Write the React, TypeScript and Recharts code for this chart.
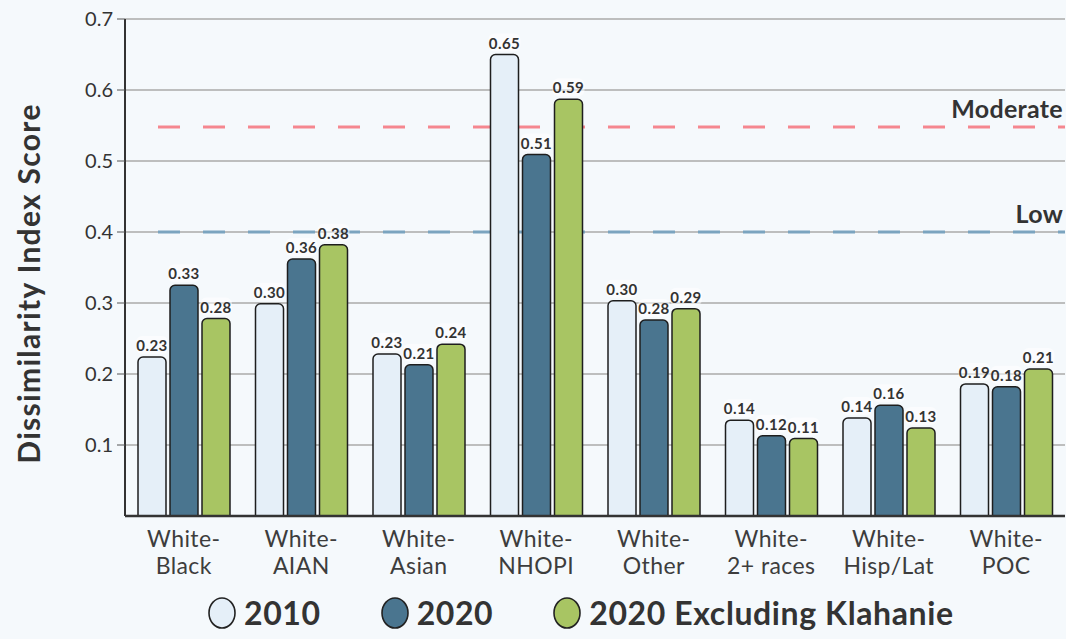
import React from 'react';
import {
  BarChart,
  Bar,
  XAxis,
  YAxis,
  CartesianGrid,
  ReferenceLine,
  Legend,
  LabelList,
  Label,
} from 'recharts';

const categories = [
  'White-Black',
  'White-AIAN',
  'White-Asian',
  'White-NHOPI',
  'White-Other',
  'White-2+ races',
  'White-Hisp/Lat',
  'White-POC',
];

const values2010 = [0.224, 0.299, 0.228, 0.65, 0.303, 0.135, 0.138, 0.186];
const values2020 = [0.325, 0.362, 0.213, 0.509, 0.276, 0.113, 0.156, 0.182];
const valuesExcl = [0.278, 0.382, 0.242, 0.587, 0.292, 0.109, 0.124, 0.207];

const labels2010 = ['0.23', '0.30', '0.23', '0.65', '0.30', '0.14', '0.14', '0.19'];
const labels2020 = ['0.33', '0.36', '0.21', '0.51', '0.28', '0.12', '0.16', '0.18'];
const labelsExcl = ['0.28', '0.38', '0.24', '0.59', '0.29', '0.11', '0.13', '0.21'];

const yTicks = [0.1, 0.2, 0.3, 0.4, 0.5, 0.6, 0.7];

const thresholds = [
  { name: 'Moderate', value: 0.548, color: '#f5878f' },
  { name: 'Low', value: 0.4, color: '#7ba4bf' },
];

const series = [
  { key: 'y2010', label: 'l2010', name: '2010', color: '#e5eff8' },
  { key: 'y2020', label: 'l2020', name: '2020', color: '#4a758f' },
  { key: 'excl', label: 'lexcl', name: '2020 Excluding Klahanie', color: '#a8c563' },
];

const data = categories.map((c, i) => ({
  name: c,
  y2010: values2010[i],
  y2020: values2020[i],
  excl: valuesExcl[i],
  l2010: labels2010[i],
  l2020: labels2020[i],
  lexcl: labelsExcl[i],
}));

const FONT = 'Lato, "Noto Sans", sans-serif';
const TEXT = '#333333';

// dashes start a bit in from the axis, like the original
const dashPattern = '0 33 ' + Array(22).fill('22 23').join(' ');

function BarValue(props: any) {
  const { x, y, width, value } = props;
  const cx = x + width / 2;
  return (
    <g>
      <rect x={cx - 16} y={y - 21} width={32} height={18} rx={6} fill="#ffffff" fillOpacity={0.55} />
      <text
        x={cx}
        y={y - 6}
        textAnchor="middle"
        fontFamily={FONT}
        fontSize={15}
        fontWeight={700}
        letterSpacing={0.4}
        fill={TEXT}
      >
        {value}
      </text>
    </g>
  );
}

function CategoryTick(props: any) {
  const { x, y, payload } = props;
  const [a, b] = String(payload.value).split('-');
  return (
    <text x={x} y={y} textAnchor="middle" fontFamily={FONT} fontSize={23} letterSpacing={0.4} fill="#3d3d3d">
      <tspan x={x} dy={29}>{a + '-'}</tspan>
      <tspan x={x} dy={27}>{b}</tspan>
    </text>
  );
}

function ThresholdLabel(props: any) {
  const { viewBox, text } = props;
  return (
    <text
      x={viewBox.x + viewBox.width - 2}
      y={viewBox.y - 9}
      textAnchor="end"
      fontFamily={FONT}
      fontSize={25}
      fontWeight={700}
      letterSpacing={0.3}
      fill={TEXT}
    >
      {text}
    </text>
  );
}

function AxisTitle(props: any) {
  const { viewBox } = props;
  const cx = viewBox.x + 40;
  const cy = viewBox.y + viewBox.height / 2 + 16;
  return (
    <text
      x={cx}
      y={cy}
      transform={`rotate(-90, ${cx}, ${cy})`}
      textAnchor="middle"
      fontFamily={FONT}
      fontSize={30}
      fontWeight={700}
      letterSpacing={1.3}
      fill={TEXT}
    >
      Dissimilarity Index Score
    </text>
  );
}

function LegendBox() {
  return (
    <div
      style={{
        display: 'flex',
        alignItems: 'center',
        height: 59,
        paddingTop: 6,
        boxSizing: 'border-box',
        paddingLeft: 207,
        fontFamily: FONT,
      }}
    >
      {series.map((s) => (
        <div key={s.key} style={{ display: 'flex', alignItems: 'center', marginRight: 59 }}>
          <svg width={30} height={34} style={{ marginRight: 7 }}>
            <ellipse cx={15} cy={17} rx={13} ry={15} fill={s.color} stroke="#222" strokeWidth={1.6} />
          </svg>
          <span style={{ fontSize: 32, fontWeight: 700, letterSpacing: 0.6, color: TEXT }}>{s.name}</span>
        </div>
      ))}
    </div>
  );
}

export default function App() {
  return (
    <div style={{ position: 'fixed', left: 0, top: 0, width: 1066, height: 639, background: '#f5f9fc' }}>
      <BarChart
        width={1066}
        height={639}
        data={data}
        margin={{ top: 19, right: 1, left: 0, bottom: 0 }}
        barCategoryGap="10%"
        barGap={4}
      >
        <CartesianGrid vertical={false} stroke="#aaaaaa" strokeWidth={1.5} />
        {/* threshold dashes drawn as grid lines so the bars sit on top of them */}
        {thresholds.map((t) => (
          <CartesianGrid
            key={t.name + '-dash'}
            vertical={false}
            horizontalValues={[t.value]}
            stroke={t.color}
            strokeWidth={3}
            strokeDasharray={dashPattern}
          />
        ))}
        {thresholds.map((t) => (
          <ReferenceLine
            key={t.name}
            y={t.value}
            stroke="none"
            label={<ThresholdLabel text={t.name} />}
          />
        ))}
        <XAxis
          dataKey="name"
          height={64}
          stroke="#333"
          strokeWidth={2.5}
          tickLine={false}
          tickSize={0}
          tick={<CategoryTick />}
          interval={0}
        />
        <YAxis
          width={125}
          domain={[0, 0.7]}
          ticks={yTicks}
          tickFormatter={(v: number) => v.toFixed(1)}
          stroke="#333"
          strokeWidth={2}
          tickSize={8}
          tickMargin={4}
          tick={{ fontFamily: FONT, fontSize: 20, fill: TEXT }}
          tickLine={{ stroke: '#555', strokeWidth: 1 }}
          label={<Label content={<AxisTitle />} />}
        />
        <Legend
          verticalAlign="bottom"
          height={59}
          wrapperStyle={{ left: 0, width: 1066 }}
          content={<LegendBox />}
        />
        {series.map((s) => (
          <Bar
            key={s.key}
            dataKey={s.key}
            name={s.name}
            fill={s.color}
            stroke="#1e1e1e"
            strokeWidth={1.5}
            barSize={28}
            radius={[5, 5, 0, 0]}
            isAnimationActive={false}
          >
            <LabelList dataKey={s.label} content={<BarValue />} />
          </Bar>
        ))}
      </BarChart>
    </div>
  );
}
